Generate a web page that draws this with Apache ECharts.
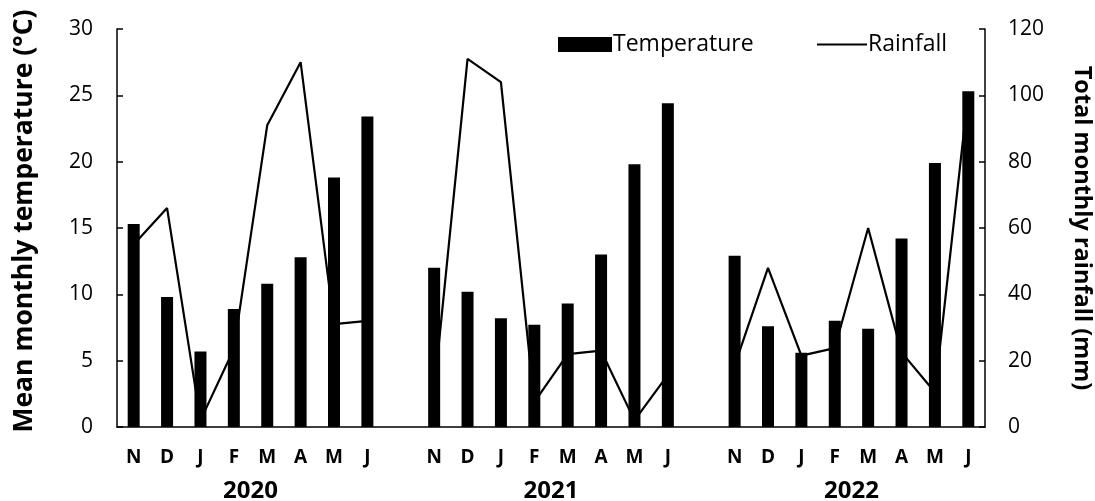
<!DOCTYPE html>
<html>
<head>
<meta charset="utf-8">
<script src="https://cdn.jsdelivr.net/npm/echarts@6/dist/echarts.min.js"></script>
<style>html,body{margin:0;padding:0;background:#fff;}#c{width:1095px;height:501px;}</style>
</head>
<body>
<div id="c"></div>
<script>
// Month labels per season (Nov–Jun), with one blank slot between seasons
const months = ['N','D','J','F','M','A','M','J'];
const years = ['2020','2021','2022'];
// Mean monthly temperature (°C)
const temp2020 = [15.3, 9.8, 5.7, 8.9, 10.8, 12.8, 18.8, 23.4];
const temp2021 = [12.0, 10.2, 8.2, 7.7, 9.3, 13.0, 19.8, 24.4];
const temp2022 = [12.9, 7.6, 5.6, 8.0, 7.4, 14.2, 19.9, 25.3];
// Total monthly rainfall (mm)
const rain2020 = [55, 66, 2, 23.5, 91, 110, 31, 32];
const rain2021 = [11, 111, 104, 7.5, 22, 23, 2, 15.7];
const rain2022 = [18.5, 48, 21.5, 23.8, 60, 22.5, 10.5, 101];
// Tick settings
const tempTicks = {min: 0, max: 30, interval: 5};
const rainTicks = {min: 0, max: 120, interval: 20};

const categories = [...months, '', ...months, '', ...months];
const tempData = [...temp2020, null, ...temp2021, null, ...temp2022];
const rainData = [...rain2020, null, ...rain2021, null, ...rain2022];
const nCat = categories.length;
// year label positions: centre of each season group, in band units
const yearPos = [4, 13, 22];

const FONT = 'Open Sans';
const chart = echarts.init(document.getElementById('c'), null, {renderer: 'canvas'});
chart.setOption({
  backgroundColor: '#fff',
  animation: false,
  textStyle: {fontFamily: FONT, color: '#000'},
  grid: {left: 117, right: 110, top: 29, bottom: 74, containLabel: false, outerBoundsMode: 'none'},
  legend: [
    {data: [{name: 'Temperature', icon: 'rect'}], left: 553, top: 28, itemWidth: 54, itemHeight: 15, itemGap: 0,
     textStyle: {fontFamily: FONT, fontSize: 23, color: '#000', padding: [0,0,0,-4]}},
    {data: [{name: 'Rainfall', icon: 'rect'}], left: 812, top: 28, itemWidth: 50, itemHeight: 2,
     itemStyle: {color: '#000'},
     textStyle: {fontFamily: FONT, fontSize: 23, color: '#000', padding: [0,0,0,-4]}}
  ],
  xAxis: [
    {type: 'category', data: categories, position: 'bottom',
     axisLine: {show: true, lineStyle: {color: '#000', width: 1.5}},
     axisTick: {show: false},
     axisLabel: {interval: 0, margin: 21, fontFamily: FONT, fontSize: 19, fontWeight: 'bold', color: '#000'},
     splitLine: {show: false}},
    {type: 'value', min: 0, max: nCat, position: 'bottom', offset: 41,
     axisLine: {show: false}, axisTick: {show: false}, splitLine: {show: false},
     axisLabel: {customValues: yearPos, formatter: v => years[yearPos.indexOf(v)] || '',
       fontFamily: FONT, fontSize: 24, fontWeight: 'bold', color: '#000', margin: 11}}
  ],
  yAxis: [
    {type: 'value', position: 'left', min: tempTicks.min, max: tempTicks.max, interval: tempTicks.interval,
     name: 'Mean monthly temperature (°C)', nameLocation: 'middle', nameGap: 79, nameRotate: 90,
     nameTextStyle: {fontFamily: FONT, fontSize: 26.5, fontWeight: 'bold', color: '#000', padding: [0,0,0,14]},
     axisLine: {show: true, lineStyle: {color: '#000', width: 1.5}},
     axisTick: {show: true, inside: true, length: 6, lineStyle: {color: '#000', width: 1.5}},
     axisLabel: {fontFamily: FONT, fontSize: 21, color: '#000', margin: 24},
     splitLine: {show: false}},
    {type: 'value', position: 'right', min: rainTicks.min, max: rainTicks.max, interval: rainTicks.interval,
     name: 'Total monthly rainfall (mm)', nameLocation: 'middle', nameGap: 85, nameRotate: -90,
     nameTextStyle: {fontFamily: FONT, fontSize: 23.5, fontWeight: 'bold', color: '#000'},
     axisLine: {show: true, lineStyle: {color: '#000', width: 1.5}},
     axisTick: {show: true, inside: true, length: 6, lineStyle: {color: '#000', width: 1.5}},
     axisLabel: {fontFamily: FONT, fontSize: 21, color: '#000', margin: 23},
     splitLine: {show: false}}
  ],
  series: [
    {name: 'Rainfall', type: 'line', xAxisIndex: 0, yAxisIndex: 1, data: rainData,
     symbol: 'none', connectNulls: false, z: 1,
     lineStyle: {color: '#000', width: 2.2}, itemStyle: {color: '#000'}},
    {name: 'Temperature', type: 'bar', xAxisIndex: 0, yAxisIndex: 0, data: tempData,
     barWidth: 12, z: 3, itemStyle: {color: '#000'}}
  ]
});
</script>
</body>
</html>
